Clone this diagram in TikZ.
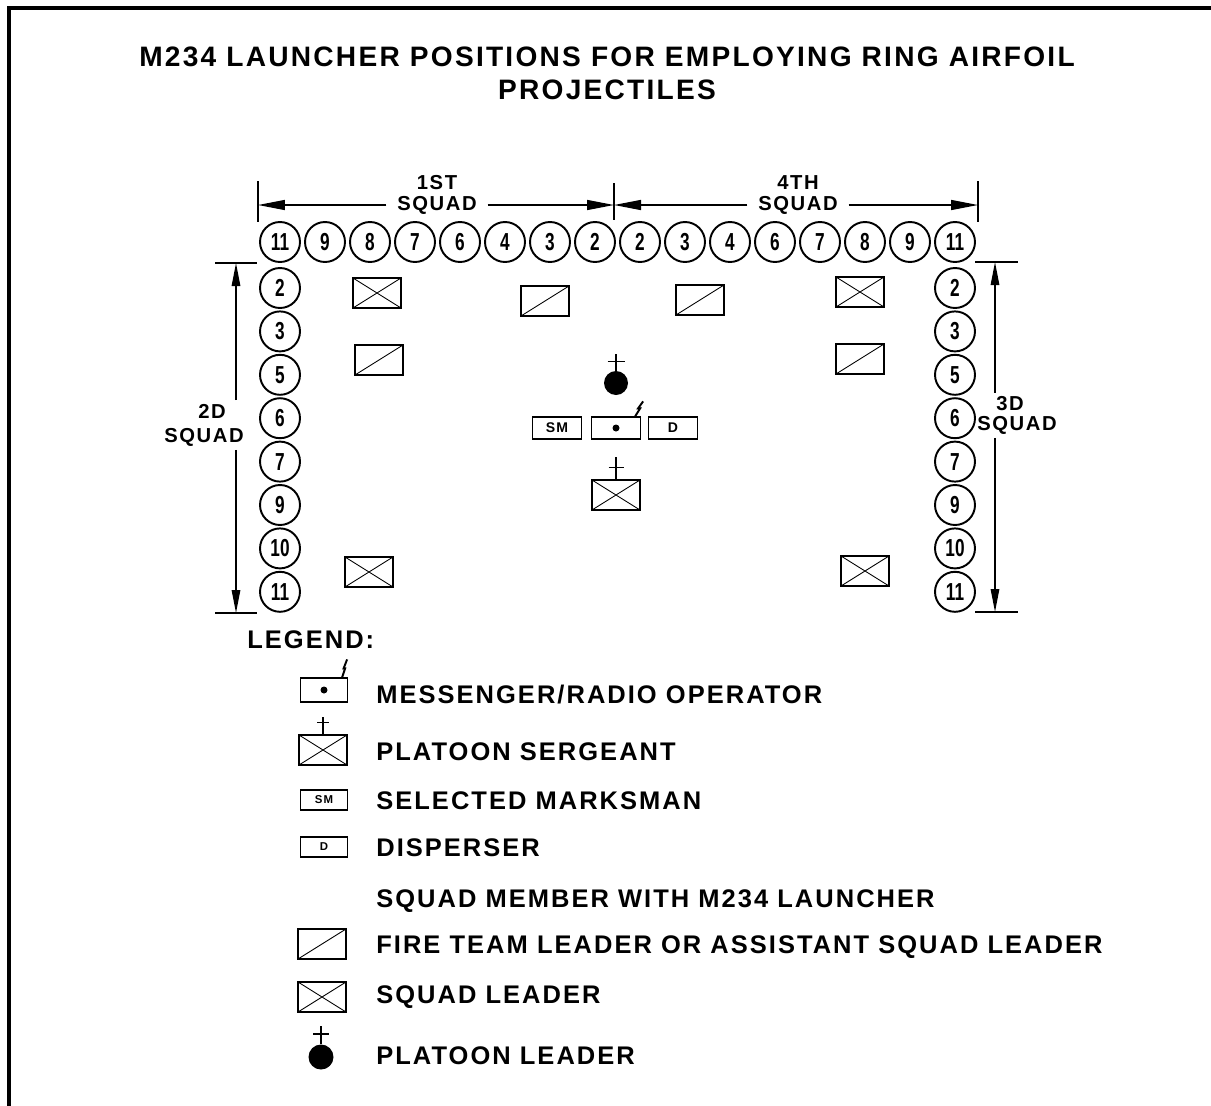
\documentclass[tikz,border=0pt]{standalone}
\usepackage{fontspec}
\setmainfont[LetterSpace=8]{Liberation Sans}
\newfontfamily\numfont[FakeStretch=0.7]{Liberation Sans}
\usetikzlibrary{arrows.meta,calc}

\tikzset{
  member/.style={circle, draw, line width=1.1pt, minimum size=0.8cm, inner sep=0pt,
    font=\numfont\bfseries\fontsize{14}{14}\selectfont},
  unitbox/.style={rectangle, draw, line width=0.8pt, minimum width=0.96cm,
    minimum height=0.6cm, inner sep=0pt},
  sqldr/.style={unitbox, path picture={\draw[line width=0.5pt]
    (path picture bounding box.south west) -- (path picture bounding box.north east)
    (path picture bounding box.north west) -- (path picture bounding box.south east);}},
  ftldr/.style={unitbox, path picture={\draw[line width=0.5pt]
    (path picture bounding box.south west) -- (path picture bounding box.north east);}},
  hqbox/.style={rectangle, draw, line width=0.7pt, minimum width=0.98cm,
    minimum height=0.44cm, inner sep=0pt, font=\bfseries\fontsize{8}{8}\selectfont},
  lgbox/.style={hqbox, minimum width=0.94cm, minimum height=0.4cm,
    font=\bfseries\fontsize{6.5}{6.5}\selectfont},
  ldrdot/.style={circle, fill, minimum size=0.48cm, inner sep=0pt},
  rdot/.style={circle, fill, minimum size=0.14cm, inner sep=0pt},
  bolt/.style={line width=1.1pt, line join=miter},
  crossbar/.style={line width=0.8pt},
  ttl/.style={align=center, font=\bfseries\fontsize{16}{18.7}\selectfont},
  sqlbl/.style={inner xsep=6pt, inner ysep=2pt, font=\bfseries\fontsize{11.5}{11.5}\selectfont},
  legtext/.style={anchor=west, inner sep=0pt, font=\bfseries\fontsize{14.5}{14.5}\selectfont},
  tick/.style={line width=0.8pt},
  dimarrow/.style={line width=0.8pt, -{Triangle[length=0.54cm, width=0.2cm]}},
  dimarrowv/.style={line width=0.8pt, -{Triangle[length=0.46cm, width=0.17cm]}}
}

\begin{document}
\begin{tikzpicture}[x=0.02cm, y=-0.02cm]
\useasboundingbox (0,0) rectangle (1211,1106);
% frame, top and left edges only
\draw[line width=1.8pt] (9,1106) -- (9,8) -- (1211,8);
\node[ttl] (title) at (607,73) {M234 LAUNCHER POSITIONS FOR EMPLOYING RING AIRFOIL\\PROJECTILES};

% 1st and 4th squads along the top
\foreach \n [count=\i] in {11,9,8,7,6,4,3,2,2,3,4,6,7,8,9,11}
  \node[member] (t\i) at ({280+45*(\i-1)},242) {\n};
% 2d and 3d squads down the sides
\foreach \n [count=\i] in {2,3,5,6,7,9,10,11} {
  \node[member] (l\i) at (280,{288+43.4*(\i-1)}) {\n};
  \node[member] (r\i) at (955,{288+43.4*(\i-1)}) {\n};
}

% squad extents, top
\coordinate (tkA) at (258,203); \coordinate (tkB) at (614,203); \coordinate (tkC) at (978,203);
\draw[tick] (258,181) -- (258,222); \draw[tick] (614,183) -- (614,220); \draw[tick] (978,181) -- (978,222);
\node[sqlbl] (sq1a) at (437,183) {1ST};
\node[sqlbl] (sq1b) at (437,205) {SQUAD};
\node[sqlbl] (sq4a) at (798,183) {4TH};
\node[sqlbl] (sq4b) at (798,205) {SQUAD};
\draw[dimarrow] (sq1b.west) -- (sq1b.west -| tkA);
\draw[dimarrow] (sq1b.east) -- (sq1b.east -| tkB);
\draw[dimarrow] (sq4b.west) -- (sq4b.west -| tkB);
\draw[dimarrow] (sq4b.east) -- (sq4b.east -| tkC);

% squad extents, sides
\coordinate (tkL1) at (236,263); \coordinate (tkL2) at (236,613);
\coordinate (tkR1) at (995,262); \coordinate (tkR2) at (995,612);
\draw[tick] (215,263) -- (257,263); \draw[tick] (215,613) -- (257,613);
\draw[tick] (975,262) -- (1018,262); \draw[tick] (975,612) -- (1018,612);
\node[sqlbl] (sq2a) at (212,411) {2D};
\node[sqlbl] (sq2b) at (204,437) {SQUAD};
\node[sqlbl] (sq3a) at (1010,404) {3D};
\node[sqlbl] (sq3b) at (1017,425) {SQUAD};
\draw[dimarrowv] (sq2a.north -| tkL1) -- (tkL1);
\draw[dimarrowv] (sq2b.south -| tkL2) -- (tkL2);
\draw[dimarrowv] (sq3a.north -| tkR1) -- (tkR1);
\draw[dimarrowv] (sq3b.south -| tkR2) -- (tkR2);

% leaders inside the perimeter
\node[sqldr] (sl1) at (377,293) {};
\node[ftldr] (ft1) at (545,301) {};
\node[ftldr] (ft4) at (700,300) {};
\node[sqldr] (sl4) at (860,292) {};
\node[ftldr] (ft2) at (379,360) {};
\node[ftldr] (ft3) at (860,359) {};
\node[sqldr] (sl2) at (369,572) {};
\node[sqldr] (sl3) at (865,571) {};

% platoon headquarters
\node[ldrdot] (pl) at (616,383) {};
\draw[crossbar] (pl.north) -- ++(0,-17);
\draw[crossbar] ($(pl.north)+(-8.5,-9)$) -- ++(17,0);
\node[hqbox] (sm) at (557,428) {SM};
\node[hqbox] (mr) at (616,428) {};
\node[rdot] (mrdot) at (mr.center) {};
\draw[bolt] ([xshift=-0.12cm]mr.north east) -- ++(5,-8) -- ++(-2,0) -- ++(5,-7);
\node[hqbox] (dsp) at (673,428) {D};
\node[sqldr] (ps) at (616,495) {};
\draw[crossbar] (ps.north) -- ++(0,-22);
\draw[crossbar] ($(ps.north)+(-7.5,-12)$) -- ++(15,0);

% legend
\node[legtext] (leg) at (247,640) {LEGEND:};
\node[lgbox, minimum height=0.48cm] (lgmr) at (324,690) {};
\node[rdot] (lgmrdot) at (lgmr.center) {};
\draw[bolt] ([xshift=-0.12cm]lgmr.north east) -- ++(3,-9) -- ++(-1.5,0) -- ++(3.5,-9);
\node[legtext] (lgmrT) at (376,695) {MESSENGER/RADIO OPERATOR};
\node[unitbox, minimum width=0.94cm, minimum height=0.52cm, sqldr] (lgps) at (323,750) {};
\draw[crossbar] (lgps.north) -- ++(0,-17);
\draw[crossbar] ($(lgps.north)+(-6,-12)$) -- ++(12,0);
\node[legtext] (lgpsT) at (376,752) {PLATOON SERGEANT};
\node[lgbox] (lgsm) at (324,800) {SM};
\node[legtext] (lgsmT) at (376,801) {SELECTED MARKSMAN};
\node[lgbox] (lgd) at (324,847) {D};
\node[legtext] (lgdT) at (376,848) {DISPERSER};
\node[legtext] (lgmbT) at (376,901) {SQUAD MEMBER WITH M234 LAUNCHER};
\node[ftldr] (lgft) at (322,944) {};
\node[legtext] (lgftT) at (376,947) {FIRE TEAM LEADER OR ASSISTANT SQUAD LEADER};
\node[sqldr] (lgsl) at (322,997) {};
\node[legtext] (lgslT) at (376,997) {SQUAD LEADER};
\node[ldrdot, minimum size=0.5cm] (lgpl) at (321,1057) {};
\draw[crossbar] (lgpl.north) -- ++(0,-18);
\draw[crossbar] ($(lgpl.north)+(-8,-10)$) -- ++(16,0);
\node[legtext] (lgplT) at (376,1056) {PLATOON LEADER};
\end{tikzpicture}
\end{document}
